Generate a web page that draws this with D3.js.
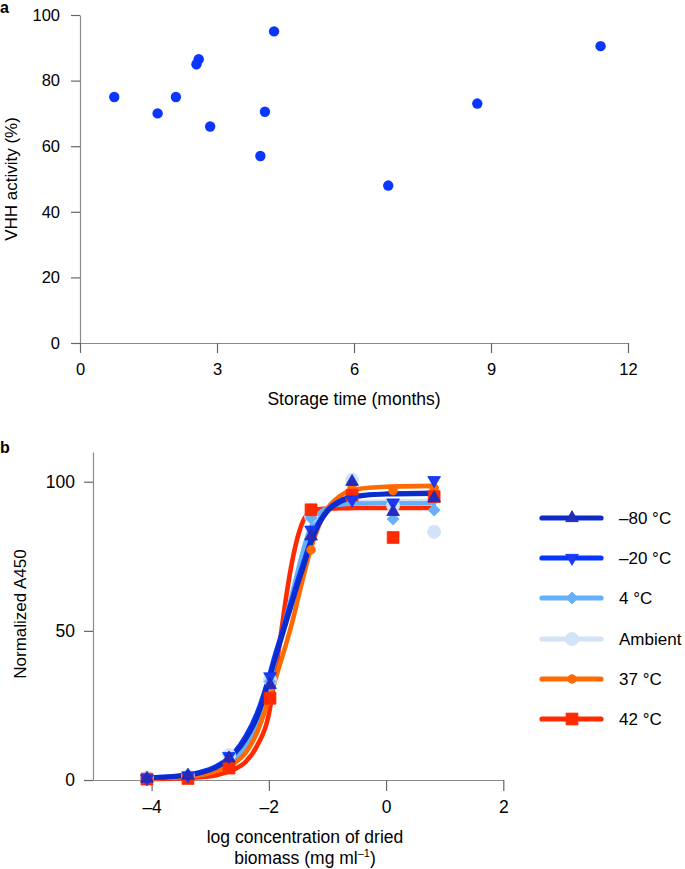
<!DOCTYPE html>
<html><head><meta charset="utf-8">
<script src="https://cdn.jsdelivr.net/npm/d3@7"></script>
<style>html,body{margin:0;padding:0;background:#fff}svg{display:block}text{font-family:"Liberation Sans",Arial,sans-serif;fill:#000}</style>
</head><body><svg id="c" width="685" height="869"></svg>
<script>
// ---------- Panel a data ----------
const storageMonths = [0.75, 1.7, 2.1, 2.55, 2.6, 2.85, 3.95, 4.05, 4.25, 6.75, 8.7, 11.4];
const vhhActivity   = [75, 70, 75, 85, 86.5, 66, 57, 70.5, 95, 48, 73, 90.5];
const aXTicks = [0, 3, 6, 9, 12];
const aYTicks = [0, 20, 40, 60, 80, 100];

// ---------- Panel b data ----------
const seriesNames = ["–80 °C", "–20 °C", "4 °C", "Ambient", "37 °C", "42 °C"];
const bXTicks = [-4, -2, 0, 2];
const bYTicks = [0, 50, 100];
const logConc = [-4.08, -3.38, -2.68, -1.98, -1.28, -0.58, 0.12, 0.82];
const a450_m80  = [0.5, 1.5, 7.3, 31.9, 81.7, 100, 89.9, 94.5];
const a450_m20  = [0.5, 1.5, 8.0, 34.7, 83.9, 94.0, 93.0, 100.5];
const a450_4    = [0.5, 1.5, 6.5, 33.0, 87.8, 94.0, 87.5, 90.5];
const a450_amb  = [0.8, 1.5, 8.4, 33.5, 88.4, 100.7, 92.0, 83.2];
const a450_37   = [0.3, 1.0, 6.7, 26.8, 77.2, 97.9, 97.0, 97.9];
const a450_42   = [0.3, 0.5, 4.0, 27.4, 90.6, 95.5, 81.3, 95.0];

// fitted curves at these x positions
const fitX     = [-4.08, -3.6, -3.2, -2.9, -2.6, -2.4, -2.2, -2.0, -1.9, -1.8, -1.7, -1.6, -1.5, -1.4, -1.3, -1.2, -1.0, -0.8, -0.5, 0, 0.82];
const fit_m80  = [0.8, 1.2, 2.2, 4.2, 8.5, 13.5, 21, 33, 40, 46.5, 53, 59.5, 66, 72, 78.5, 83.5, 90, 93, 95, 95.8, 96];
const fit_m20  = [0.8, 1.3, 2.5, 4.6, 9, 14.5, 22.5, 34.5, 41.5, 48, 54.5, 61, 67.5, 73.5, 79.5, 84.5, 90.5, 93.5, 95.3, 96, 96.3];
const fit_4    = [0.6, 0.9, 1.6, 3.2, 6.5, 11, 19, 32, 39.5, 47, 55, 62.5, 70.5, 78, 84, 88, 91.3, 92.3, 92.7, 92.8, 92.8];
const fit_amb  = [0.8, 1.3, 2.4, 4.3, 8, 12.5, 20, 32.5, 40, 47.5, 55, 62.5, 70, 77, 82.5, 87, 91, 92.5, 93.2, 93.4, 93.5];
const fit_37   = [0.5, 0.9, 1.6, 3, 5.5, 9, 16, 27, 33, 39.5, 46, 53, 61, 69, 76.5, 82.5, 91, 95, 97.5, 98.3, 98.6];
const fit_42   = [0.3, 0.5, 0.9, 1.6, 3.5, 6, 11.5, 22, 34, 48, 62, 73.5, 82, 87.5, 89.8, 90.6, 91, 91.1, 91.2, 91.2, 91.2];

const seriesColors = ["#0b2cc8", "#0436ff", "#66b0fb", "#d2e3f7", "#ff6a00", "#ff2a00"];
const markerColors = ["#2a2ab8", "#2038f0", "#66b0fb", "#d2e3f7", "#ff6a00", "#ff2a00"];

const svg = d3.select("#c");
svg.append("rect").attr("width", 685).attr("height", 869).attr("fill", "#fff");
const axisColor = "#8a8a8a";

function styleAxis(g) {
  g.selectAll("path.domain").attr("stroke", axisColor).attr("stroke-width", 1.2);
  g.selectAll(".tick line").attr("stroke", "#666").attr("stroke-width", 1.2);
  g.selectAll(".tick text").attr("font-family", '"Liberation Sans", Arial, sans-serif').attr("fill", "#000");
}
const fmt = d => d < 0 ? "–" + Math.abs(d) : String(d);

// ---------------- Panel a ----------------
const xA = d3.scaleLinear().domain([0, 12]).range([80, 628]);
const yA = d3.scaleLinear().domain([0, 100]).range([343, 15]);

svg.append("text").attr("x", 0).attr("y", 13).attr("font-weight", "bold").attr("font-size", 16).text("a");

const gAy = svg.append("g").attr("transform", "translate(80,0)")
  .call(d3.axisLeft(yA).tickValues(aYTicks).tickSize(9).tickSizeOuter(0).tickPadding(11).tickFormat(fmt));
gAy.attr("font-size", 16.5); styleAxis(gAy);
const gAx = svg.append("g").attr("transform", "translate(0,343)")
  .call(d3.axisBottom(xA).tickValues(aXTicks).tickSize(10).tickSizeOuter(0).tickPadding(10).tickFormat(fmt));
gAx.attr("font-size", 16.5); styleAxis(gAx);

svg.append("text").attr("x", 354).attr("y", 405).attr("text-anchor", "middle").attr("font-size", 17.5)
  .text("Storage time (months)");
svg.append("text").attr("transform", "translate(17,179) rotate(-90)").attr("text-anchor", "middle").attr("font-size", 17)
  .text("VHH activity (%)");

svg.append("g").selectAll("circle").data(storageMonths.map((m, i) => [m, vhhActivity[i]])).join("circle")
  .attr("cx", d => xA(d[0])).attr("cy", d => yA(d[1])).attr("r", 5.2).attr("fill", "#0a36ff");

// ---------------- Panel b ----------------
const xB = d3.scaleLinear().domain([-5, 2]).range([93, 503.3]);
const yB = d3.scaleLinear().domain([0, 110]).range([780, 451.9]);

svg.append("text").attr("x", 0).attr("y", 453).attr("font-weight", "bold").attr("font-size", 16).text("b");

const gBy = svg.append("g").attr("transform", "translate(93,0)")
  .call(d3.axisLeft(yB).tickValues(bYTicks).tickSize(9).tickSizeOuter(0).tickPadding(9).tickFormat(fmt));
gBy.attr("font-size", 17.5); styleAxis(gBy);
const gBx = svg.append("g").attr("transform", "translate(0,780)")
  .call(d3.axisBottom(xB).tickValues(bXTicks).tickSize(11).tickSizeOuter(0).tickPadding(10).tickFormat(fmt));
gBx.attr("font-size", 17.5); styleAxis(gBx);

const tb = svg.append("text").attr("text-anchor", "middle").attr("font-size", 17.5);
tb.append("tspan").attr("x", 305).attr("y", 843).text("log concentration of dried");
const t2 = tb.append("tspan").attr("x", 305).attr("y", 864);
t2.append("tspan").text("biomass (mg ml");
t2.append("tspan").attr("dy", -7).attr("font-size", 11).text("–1");
t2.append("tspan").attr("dy", 7).text(")");
svg.append("text").attr("transform", "translate(26,614) rotate(-90)").attr("text-anchor", "middle").attr("font-size", 17)
  .text("Normalized A450");

const dataSets = [a450_m80, a450_m20, a450_4, a450_amb, a450_37, a450_42];
const fitSets = [fit_m80, fit_m20, fit_4, fit_amb, fit_37, fit_42];

const shapes = [
  { sym: d3.symbol(d3.symbolTriangle, 70), rot: 0 },
  { sym: d3.symbol(d3.symbolTriangle, 70), rot: 180 },
  { sym: d3.symbol(d3.symbolSquare, 72), rot: 45 },
  { sym: d3.symbol(d3.symbolCircle, 135), rot: 0 },
  { sym: d3.symbol(d3.symbolCircle, 60), rot: 0 },
  { sym: d3.symbol(d3.symbolSquare, 140), rot: 0 }
];

const line = d3.line().x(d => xB(d[0])).y(d => yB(d[1])).curve(d3.curveMonotoneX);
const lineOrder = [3, 5, 2, 4, 1, 0];
const gLines = svg.append("g");
lineOrder.forEach(i => {
  gLines.append("path").datum(fitX.map((x, k) => [x, fitSets[i][k]]))
    .attr("d", line).attr("fill", "none").attr("stroke", seriesColors[i])
    .attr("stroke-width", 4.6).attr("stroke-linecap", "round").attr("stroke-linejoin", "round");
});
const markerOrder = [3, 2, 4, 5, 1, 0];
const gMarks = svg.append("g");
markerOrder.forEach(i => {
  gMarks.append("g").selectAll("path").data(logConc.map((x, k) => [x, dataSets[i][k]])).join("path")
    .attr("d", shapes[i].sym())
    .attr("transform", d => `translate(${xB(d[0])},${yB(d[1])}) rotate(${shapes[i].rot})`)
    .attr("fill", markerColors[i]).attr("stroke", seriesColors[i]).attr("stroke-width", 0.8);
});

// Legend
const legendY = [518, 558, 598, 639, 679, 719];
const gLeg = svg.append("g");
seriesNames.forEach((name, i) => {
  const y = legendY[i];
  gLeg.append("line").attr("x1", 542).attr("x2", 601).attr("y1", y).attr("y2", y)
    .attr("stroke", seriesColors[i]).attr("stroke-width", 5.2).attr("stroke-linecap", "round");
  gLeg.append("path").attr("d", shapes[i].sym())
    .attr("transform", `translate(572,${y}) rotate(${shapes[i].rot})`)
    .attr("fill", markerColors[i]).attr("stroke", seriesColors[i]).attr("stroke-width", 0.8);
  gLeg.append("text").attr("x", 619).attr("y", y + 6).attr("font-size", 17).text(name);
});
</script></body></html>
